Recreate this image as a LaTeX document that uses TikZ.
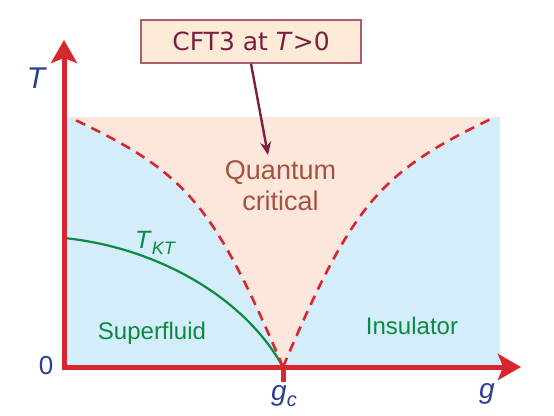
\documentclass[tikz,border=0pt]{standalone}
\usepackage{fontspec}
\setmainfont{Liberation Sans}
\newfontfamily\dejavu{DejaVu Sans}
\usetikzlibrary{arrows.meta}
\definecolor{axisred}{HTML}{D7262E}
\definecolor{bgblue}{HTML}{D4EDFA}
\definecolor{bgpink}{HTML}{FDE6DC}
\definecolor{labblue}{HTML}{2B3E8F}
\definecolor{labgreen}{HTML}{0B8A40}
\definecolor{labbrown}{HTML}{A4533C}
\definecolor{boxfill}{HTML}{FDEBD8}
\definecolor{boxline}{HTML}{A85E6E}
\definecolor{boxtext}{HTML}{7A1F42}
\tikzset{
  axisline/.style={draw=axisred, line width=5pt, -{Stealth[length=23pt,width=26pt,inset=5pt]}},
  critline/.style={draw=axisred, line width=2.6pt, dash pattern=on 10pt off 7pt},
  ktline/.style={draw=labgreen, line width=2.2pt},
  axlab/.style={text=labblue, font=\fontsize{28}{30}\selectfont, inner sep=0pt},
  phaselab/.style={text=labgreen, font=\fontsize{24}{26}\selectfont, inner sep=0pt},
  qclab/.style={text=labbrown, font=\fontsize{27}{31.5}\selectfont, align=center, inner sep=0pt},
  cftbox/.style={draw=boxline, fill=boxfill, line width=1.4pt, text=boxtext,
    font=\dejavu\fontsize{25}{27}\selectfont, minimum width=220pt, minimum height=43pt, inner sep=0pt},
  pointer/.style={draw=boxtext, line width=2.4pt, -{Stealth[length=13pt,width=11pt]}}
}
\begin{document}
\begin{tikzpicture}[x=1pt,y=-1pt]
\useasboundingbox (0,0) rectangle (554,415);
% key points
\coordinate (O) at (64,367);
\coordinate (Ttip) at (64,40);
\coordinate (gtip) at (521,367);
\coordinate (gc) at (283,367);
\coordinate (gcb) at (283,382);
\coordinate (L) at (71,118);
\coordinate (R) at (493,118);
\coordinate (K) at (64,238);
% regions
\fill[bgblue] (64,117) rectangle (500,367);
\fill[bgpink] (64,117) -- (L) .. controls (186,172) and (213,203) .. (gc)
  .. controls (353,203) and (380,172) .. (R) -- (500,116) -- (500,117) -- cycle;
% T_KT line
\draw[ktline] (K) .. controls (154,247) and (243,295) .. (gc);
% crossover lines
\draw[critline] (gc) .. controls (213,203) and (186,172) .. (L);
\draw[critline] (gc) .. controls (353,203) and (380,172) .. (R);
% axes
\draw[axisred, line width=5pt] (gc) -- (gcb);
\draw[axisline] (O) -- (Ttip);
\draw[axisline] ([xshift=-2.5pt]O) -- (gtip);
% labels
\node[axlab, font=\fontsize{30}{32}\selectfont] (Tlab) at (37,78) {\textit{T}};
\node[axlab, font=\fontsize{26}{28}\selectfont] (zero) at (46,366) {0};
\node[axlab, anchor=base] (gclab) at (284,400) {\textit{g}\raisebox{-0.22em}{\fontsize{20}{22}\selectfont\textit{c}}};
\node[axlab, anchor=base] (glab) at (487,398) {\textit{g}};
\node[qclab, anchor=base] (qc) at (280.5,210.7) {Quantum\\critical};
\node[phaselab] (sf) at (152,333) {Superfluid};
\node[phaselab] (ins) at (412,326) {Insulator};
\node[phaselab, font=\fontsize{25}{27}\selectfont, anchor=base west] (tkt) at (135,248) {\textit{T}\raisebox{-0.24em}{\fontsize{18}{20}\selectfont\textit{KT}}};
% box and pointer
\node[cftbox] (box) at (251,41.5) {CFT3 at \textit{T}>0};
\coordinate (tip) at (268,155);
\draw[pointer] (box.south) -- (tip);
\end{tikzpicture}
\end{document}
